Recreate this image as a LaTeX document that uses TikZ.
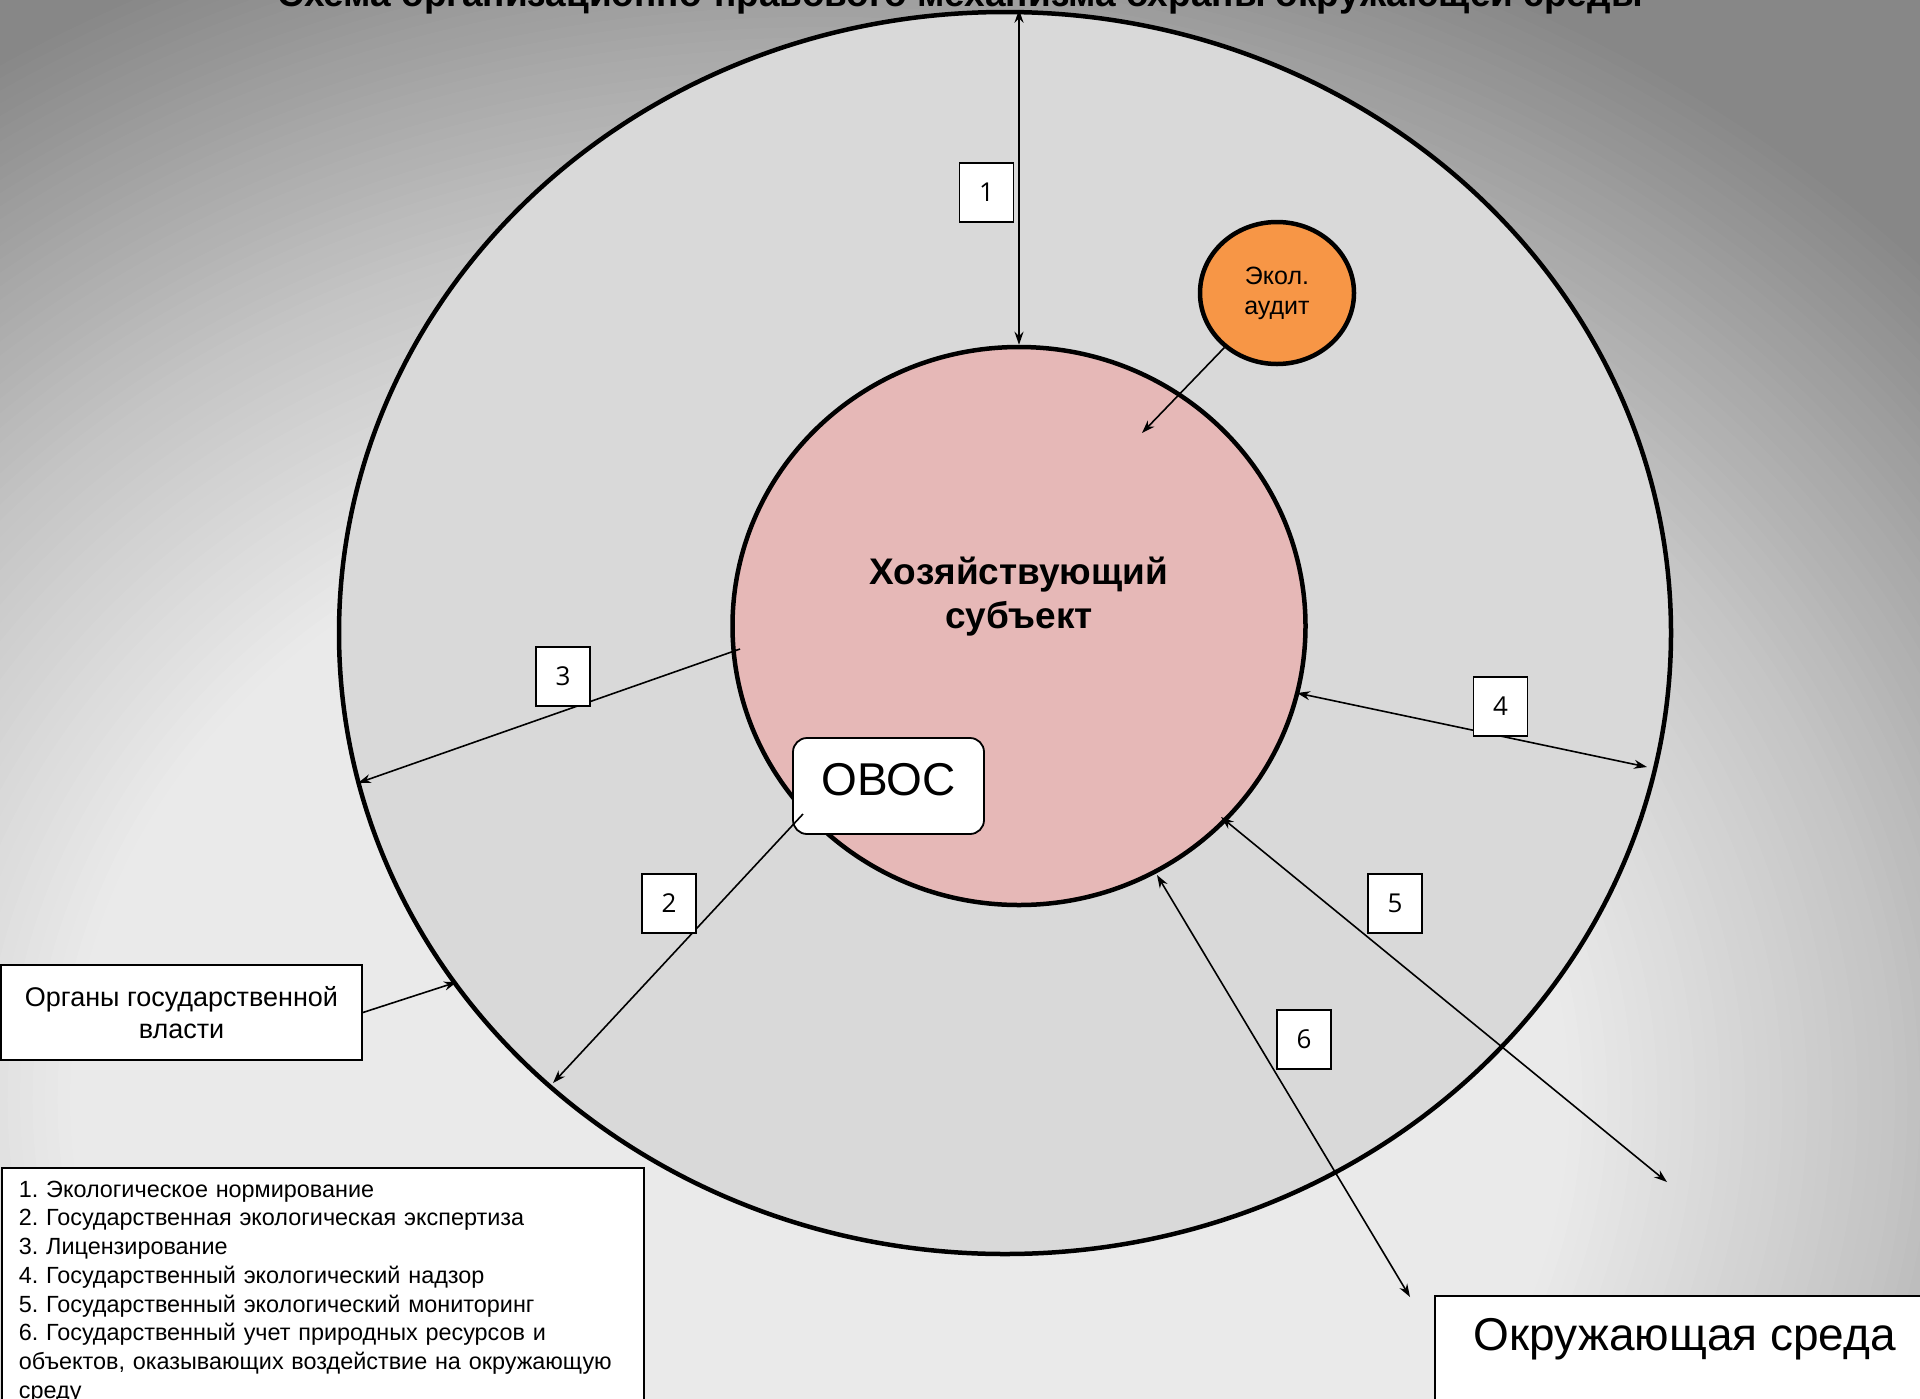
\documentclass[tikz,border=0pt]{standalone}
\usepackage{fontspec}
\setmainfont{Liberation Sans}
\newfontfamily\numfont{Open Sans}
\usetikzlibrary{arrows.meta,shapes.geometric}
\definecolor{bgdark}{HTML}{878787}
\definecolor{ringfill}{HTML}{D9D9D9}
\definecolor{corefill}{HTML}{E6B8B7}
\definecolor{auditfill}{HTML}{F79646}
\frenchspacing
\begin{document}
\begin{tikzpicture}[x=1pt,y=-1pt,
  numbox/.style={draw=black, line width=1.8pt, fill=white, minimum width=54pt, minimum height=59pt, inner sep=0pt, font=\numfont\fontsize{26}{30}\selectfont},
  conn/.style={line width=1.6pt, draw=black},
  arr/.style={conn, -{Stealth[length=13pt,width=9pt]}},
  darr/.style={conn, {Stealth[length=13pt,width=9pt]}-{Stealth[length=13pt,width=9pt]}},
  whitebox/.style={draw=black, line width=1.8pt, fill=white},
  ring/.style={ellipse, draw=black, inner sep=0pt}
]
\path[use as bounding box] (0,0) rectangle (1920,1398);
\clip (0,0) rectangle (1920,1398);
\fill[bgdark] (0,0) rectangle (1920,1398);
\foreach \i in {0,...,60}{
  \pgfmathsetmacro\f{1.0-0.5*\i/60}
  \pgfmathsetmacro\L{\f<0.72 ? 234-(\f-0.5)/0.22*38 : 196-(\f-0.72)/0.28*61}
  \pgfmathsetmacro\g{\L/255}
  \pgfmathsetmacro\rx{1500*\f}
  \pgfmathsetmacro\ry{1250*\f}
  \definecolor{bgtmp}{gray}{\g}
  \fill[bgtmp] (820,1100) ellipse [x radius=\rx, y radius=\ry];
}

\node[font=\bfseries\fontsize{37}{44}\selectfont, anchor=base] (title) at (960,6) {Схема организационно-правового механизма охраны окружающей среды};

\node[ring, line width=4.5pt, fill=ringfill, minimum width=1332pt, minimum height=1242pt] (outer) at (1005,633) {};
\node[ring, line width=4.5pt, fill=corefill, minimum width=573pt, minimum height=558pt] (inner) at (1019,626) {};
\node[ring, line width=4.5pt, fill=auditfill, minimum width=154pt, minimum height=142pt, align=center, font=\fontsize{25}{30}\selectfont] (audit) at (1277,293) {Экол.\\аудит};
\node[font=\bfseries\fontsize{37}{44}\selectfont, align=center] (subj) at (1019,597) {Хозяйствующий\\субъект};

\coordinate (a2s) at (803,814);
\coordinate (a2e) at (553,1083);
\coordinate (a3s) at (740,649);
\coordinate (a3e) at (358,783);
\coordinate (a4s) at (1297,693);
\coordinate (a4e) at (1647,767);
\coordinate (a5s) at (1221,817);
\coordinate (a5e) at (1667,1182);
\coordinate (a6s) at (1157,875);
\coordinate (a6e) at (1410,1297);
\coordinate (auditTip) at (1142,433);
\coordinate (govTip) at (457,982);

\draw[darr] (inner.north) -- (inner.north |- outer.north);
\draw[arr] (a3s) -- (a3e);
\draw[darr] (a4s) -- (a4e);
\draw[darr] (a5s) -- (a5e);
\draw[darr] (a6s) -- (a6e);
\draw[arr] (audit) -- (auditTip);

\node[whitebox, rounded corners=14pt, minimum width=191pt, minimum height=96pt, text height=33pt, text depth=14pt, inner sep=0pt, font=\fontsize{46}{50}\selectfont] (ovos) at (888.5,786) {ОВОС};
\draw[arr] (a2s) -- (a2e);

\node[numbox] (n1) at (986.5,192.5) {1};
\node[numbox] (n2) at (669,903.5) {2};
\node[numbox] (n3) at (563,676.5) {3};
\node[numbox] (n4) at (1500.5,706.5) {4};
\node[numbox] (n5) at (1395,903.5) {5};
\node[numbox] (n6) at (1304,1039.5) {6};

\node[whitebox, minimum width=361pt, minimum height=95pt, align=center, font=\fontsize{27}{32}\selectfont] (gov) at (181.5,1012.5) {Органы государственной\\власти};
\draw[arr] (gov.east) -- (govTip);

\node[whitebox, anchor=north west, text width=608pt, inner xsep=17pt, inner ysep=13pt, align=left, font=\fontsize{23.4}{28.7}\selectfont] (legend) at (1,1167) {1. Экологическое нормирование\\2. Государственная экологическая экспертиза\\3. Лицензирование\\4. Государственный экологический надзор\\5. Государственный экологический мониторинг\\6. Государственный учет природных ресурсов и\\объектов, оказывающих воздействие на окружающую\\среду};

\node[whitebox, anchor=north west, minimum width=500pt, minimum height=115pt, text height=33pt, text depth=39pt, inner ysep=21.5pt, font=\fontsize{46}{52}\selectfont] (env) at (1434,1295) {Окружающая среда};
\end{tikzpicture}
\end{document}
